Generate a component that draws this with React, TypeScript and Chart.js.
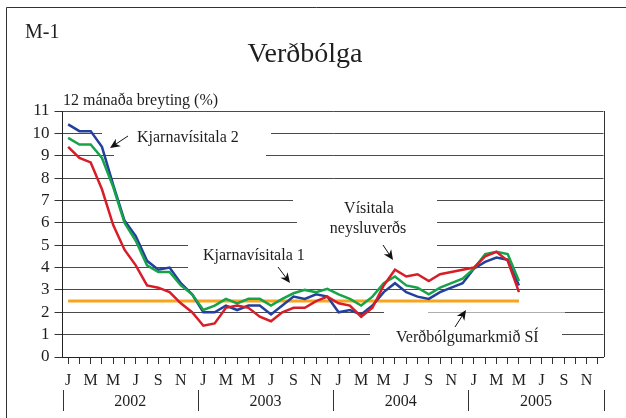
import React, { useEffect, useRef } from 'react';
import { Chart, registerables } from 'chart.js';

Chart.register(...registerables);

// ---------- data ----------
const MONTH_LETTERS = ['J', 'F', 'M', 'A', 'M', 'J', 'J', 'A', 'S', 'O', 'N', 'D'];
const YEARS = ['2002', '2003', '2004', '2005'];
const CATEGORIES = YEARS.flatMap((y) => MONTH_LETTERS.map((_, m) => `${y}-${m + 1}`));

// Vísitala neysluverðs (red), Jan 2002 – May 2005
const VISITALA_NEYSLUVERDS = [
  9.4, 8.9, 8.7, 7.5, 5.9, 4.8, 4.1, 3.2, 3.1, 2.9, 2.4, 2.0,
  1.4, 1.5, 2.2, 2.3, 2.2, 1.8, 1.6, 2.0, 2.2, 2.2, 2.5, 2.7,
  2.4, 2.3, 1.8, 2.2, 3.2, 3.9, 3.6, 3.7, 3.4, 3.7, 3.8, 3.9,
  4.0, 4.5, 4.7, 4.3, 2.9,
];
// Kjarnavísitala 1 (green)
const KJARNAVISITALA_1 = [
  9.8, 9.5, 9.5, 8.9, 7.6, 6.0, 5.2, 4.1, 3.8, 3.8, 3.2, 2.8,
  2.1, 2.3, 2.6, 2.4, 2.6, 2.6, 2.3, 2.6, 2.85, 3.0, 2.9, 3.05,
  2.8, 2.6, 2.3, 2.7, 3.3, 3.6, 3.2, 3.1, 2.8, 3.1, 3.3, 3.5,
  3.95, 4.6, 4.7, 4.6, 3.4,
];
// Kjarnavísitala 2 (blue)
const KJARNAVISITALA_2 = [
  10.4, 10.1, 10.1, 9.4, 7.7, 6.1, 5.4, 4.3, 3.9, 4.0, 3.3, 2.8,
  2.0, 2.0, 2.3, 2.1, 2.3, 2.3, 1.9, 2.3, 2.7, 2.6, 2.8, 2.7,
  2.0, 2.1, 1.9, 2.3, 2.9, 3.3, 2.9, 2.7, 2.6, 2.9, 3.1, 3.3,
  3.95, 4.25, 4.45, 4.35, 3.2,
];
// Verðbólgumarkmið SÍ (orange)
const TARGET_VALUE = 2.5;
const TARGET_START = '2002-1';
const TARGET_END = '2005-5';

const Y_MIN = 0;
const Y_MAX = 11;

// ---------- style ----------
const FONT = '"Liberation Serif", "Times New Roman", serif';
const TEXT = '#1e1e1e';
const GRID = '#4a4a4a';

// gaps (white boxes behind annotation labels): [value, x0, x1]
const GRID_GAPS: [number, number, number][] = [
  [10, 102, 271],
  [9, 114, 266],
  [7, 293, 437],
  [6, 297, 437],
  [5, 188, 437],
  [4, 188, 437],
  [2, 384, 428],
  [1, 370, 562],
];

function arrow(ctx: CanvasRenderingContext2D, x0: number, y0: number, x1: number, y1: number) {
  const ang = Math.atan2(y1 - y0, x1 - x0);
  const len = 10;
  const hw = 4.5;
  ctx.beginPath();
  ctx.moveTo(x0, y0);
  ctx.lineTo(x1 - Math.cos(ang) * 6, y1 - Math.sin(ang) * 6);
  ctx.stroke();
  const bx = x1 - Math.cos(ang) * len;
  const by = y1 - Math.sin(ang) * len;
  const nx = -Math.sin(ang);
  const ny = Math.cos(ang);
  ctx.beginPath();
  ctx.moveTo(x1, y1);
  ctx.lineTo(bx + nx * hw, by + ny * hw);
  ctx.lineTo(x1 - Math.cos(ang) * 7, y1 - Math.sin(ang) * 7);
  ctx.lineTo(bx - nx * hw, by - ny * hw);
  ctx.closePath();
  ctx.fill();
}

const decorations = {
  id: 'decorations',
  beforeDatasetsDraw(chart: any) {
    const { ctx, scales } = chart;
    const ys = scales.y;
    ctx.save();
    ctx.fillStyle = '#ffffff';
    GRID_GAPS.forEach(([v, x0, x1]) => {
      const py = ys.getPixelForValue(v);
      ctx.fillRect(x0, py - 2, x1 - x0, 4);
    });
    ctx.fillStyle = 'rgba(255,255,255,0.55)';
    const p2 = ys.getPixelForValue(2);
    ctx.fillRect(428, p2 - 2, 137, 4);
    ctx.restore();
  },
  afterDraw(chart: any) {
    const { ctx, chartArea, scales } = chart;
    const xs = scales.x;
    ctx.save();
    // outer frame (left + top)
    ctx.strokeStyle = '#333';
    ctx.lineWidth = 1;
    ctx.beginPath();
    ctx.moveTo(6.5, 418);
    ctx.lineTo(6.5, 7.5);
    ctx.lineTo(626, 7.5);
    ctx.stroke();
    // plot right border
    ctx.beginPath();
    ctx.moveTo(Math.round(chartArea.right) + 0.5, chartArea.top);
    ctx.lineTo(Math.round(chartArea.right) + 0.5, chartArea.bottom);
    ctx.stroke();

    ctx.fillStyle = TEXT;
    ctx.textBaseline = 'alphabetic';
    ctx.textAlign = 'left';
    ctx.font = `20px ${FONT}`;
    ctx.fillText('M-1', 25, 38);
    ctx.textAlign = 'center';
    ctx.font = `28px ${FONT}`;
    ctx.fillText('Verðbólga', 305, 62);
    ctx.textAlign = 'left';
    ctx.font = `16px ${FONT}`;
    ctx.fillText('12 mánaða breyting (%)', 63, 105);

    // annotations
    ctx.fillText('Kjarnavísitala 2', 137, 142);
    ctx.fillText('Kjarnavísitala 1', 203, 260);
    ctx.textAlign = 'center';
    ctx.fillText('Vísitala', 369, 213);
    ctx.fillText('neysluverðs', 368, 233);
    ctx.textAlign = 'left';
    ctx.fillText('Verðbólgumarkmið SÍ', 396, 342);

    ctx.strokeStyle = '#111';
    ctx.fillStyle = '#111';
    ctx.lineWidth = 1;
    arrow(ctx, 128, 136, 110, 148);
    arrow(ctx, 278, 267, 290, 283);
    arrow(ctx, 383, 245, 393, 260);
    arrow(ctx, 455, 327, 466, 310);

    // year row
    const step = xs.getPixelForValue(1) - xs.getPixelForValue(0);
    ctx.strokeStyle = '#333';
    ctx.fillStyle = TEXT;
    ctx.font = `16px ${FONT}`;
    ctx.textAlign = 'center';
    ctx.textBaseline = 'alphabetic';
    YEARS.forEach((yr, k) => {
      const first = xs.getPixelForValue(k * 12) - step / 2;
      const last = xs.getPixelForValue(k * 12 + 11) + step / 2;
      ctx.beginPath();
      const sx = Math.round(first) + 0.5;
      ctx.moveTo(sx, 390);
      ctx.lineTo(sx, 411);
      ctx.stroke();
      if (k === YEARS.length - 1) {
        const ex = Math.round(last) + 0.5;
        ctx.beginPath();
        ctx.moveTo(ex, 390);
        ctx.lineTo(ex, 411);
        ctx.stroke();
      }
      ctx.fillText(yr, (first + last) / 2, 406);
    });
    ctx.restore();
  },
};

export default function App() {
  const ref = useRef<HTMLCanvasElement | null>(null);

  useEffect(() => {
    document.body.style.margin = '0';
    const canvas = ref.current;
    if (!canvas) return;
    const chart = new Chart(canvas, {
      type: 'line',
      data: {
        labels: CATEGORIES,
        datasets: [
          {
            label: 'Vísitala neysluverðs',
            data: VISITALA_NEYSLUVERDS,
            borderColor: '#d71e28',
            borderWidth: 2.5,
            pointRadius: 0,
            tension: 0,
          },
          {
            label: 'Kjarnavísitala 1',
            data: KJARNAVISITALA_1,
            borderColor: '#17a34a',
            borderWidth: 2.5,
            pointRadius: 0,
            tension: 0,
          },
          {
            label: 'Kjarnavísitala 2',
            data: KJARNAVISITALA_2,
            borderColor: '#22409c',
            borderWidth: 2.5,
            pointRadius: 0,
            tension: 0,
          },
          {
            label: 'Verðbólgumarkmið SÍ',
            data: [
              { x: TARGET_START, y: TARGET_VALUE },
              { x: TARGET_END, y: TARGET_VALUE },
            ] as any,
            borderColor: '#f8a51c',
            borderWidth: 3,
            pointRadius: 0,
            tension: 0,
          },
        ],
      },
      options: {
        responsive: false,
        animation: false,
        devicePixelRatio: 1,
        layout: { padding: { left: 0, top: 111, right: 22.5, bottom: 0 } },
        plugins: {
          legend: { display: false },
          tooltip: { enabled: false },
          title: { display: false },
        },
        scales: {
          x: {
            type: 'category',
            offset: true,
            grid: {
              display: true,
              drawOnChartArea: false,
              drawTicks: true,
              tickLength: 7,
              tickColor: '#333',
              offset: false,
            },
            border: { display: true, color: '#222', width: 1 },
            ticks: {
              autoSkip: false,
              maxRotation: 0,
              minRotation: 0,
              padding: 7,
              color: TEXT,
              font: { family: FONT, size: 16 },
              callback: (_v: any, i: number) => (i % 2 === 0 ? MONTH_LETTERS[i % 12] : ''),
            },
            afterFit: (scale: any) => {
              scale.height = 61;
            },
          },
          y: {
            min: Y_MIN,
            max: Y_MAX,
            grid: {
              color: GRID,
              lineWidth: 1,
              drawTicks: true,
              tickLength: 8,
              tickColor: '#333',
            },
            border: { display: true, color: '#222', width: 1 },
            ticks: {
              stepSize: 1,
              autoSkip: false,
              padding: 5,
              color: TEXT,
              font: { family: FONT, size: 17 },
            },
            afterFit: (scale: any) => {
              scale.width = 62.5;
            },
          },
        },
      },
      plugins: [decorations],
    });
    return () => chart.destroy();
  }, []);

  return <canvas ref={ref} width={626} height={418} style={{ display: 'block' }} />;
}
